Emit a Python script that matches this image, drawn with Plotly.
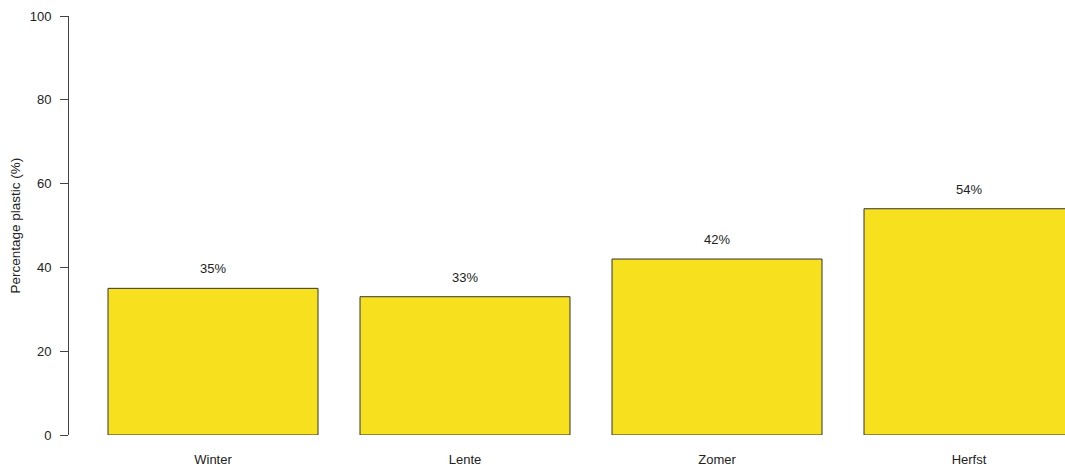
import plotly.graph_objects as go

seasons = ["Winter", "Lente", "Zomer", "Herfst"]
percentages = [35, 33, 42, 54]
labels = [f"{v}%" for v in percentages]
y_ticks = [0, 20, 40, 60, 80, 100]

# R barplot-style positions: width 1, space 0.2
bar_width = 1.0
space = 0.2
x_pos = [space + i * (bar_width + space) + bar_width / 2 for i in range(len(seasons))]

W, H = 1065, 468
left, top, bottom = 69, 16, 33
px_per_unit = 210.0
x0 = 3 / px_per_unit
x1 = x0 + (W - left) / px_per_unit

fig = go.Figure()
fig.add_trace(go.Bar(
    x=x_pos, y=percentages, width=bar_width,
    marker=dict(color="#F7E01E", line=dict(color="#333333", width=1)),
    hoverinfo="skip",
))

for xv, yv, t in zip(x_pos, percentages, labels):
    fig.add_annotation(x=xv, y=yv, text=t, showarrow=False, yanchor="bottom",
                       yshift=10, font=dict(size=13, color="#222222"))

fig.add_annotation(x=(15 - left) / (W - left), y=0.5, xref="paper", yref="paper",
                   xanchor="center", yanchor="middle",
                   text="Percentage plastic (%)", textangle=-90, showarrow=False,
                   font=dict(size=13.5, color="#222222"))

fig.update_layout(
    width=W, height=H,
    margin=dict(l=left, r=0, t=top, b=bottom, pad=0),
    paper_bgcolor="white", plot_bgcolor="white",
    showlegend=False,
    font=dict(family="Liberation Sans, Arial, sans-serif", size=13, color="#222222"),
    xaxis=dict(range=[x0, x1], tickvals=x_pos, ticktext=seasons, showgrid=False,
               zeroline=False, showline=False, ticks="", ticklabelstandoff=15),
    yaxis=dict(range=[0, 100], tickvals=y_ticks, showgrid=False, zeroline=False,
               showline=True, linecolor="#444444", linewidth=1, ticks="outside",
               ticklen=8, tickcolor="#444444", ticklabelstandoff=6),
)

fig.write_html("out.html", config={"displayModeBar": False},
               post_script="document.body.style.margin='0px';document.body.style.overflow='hidden';")
